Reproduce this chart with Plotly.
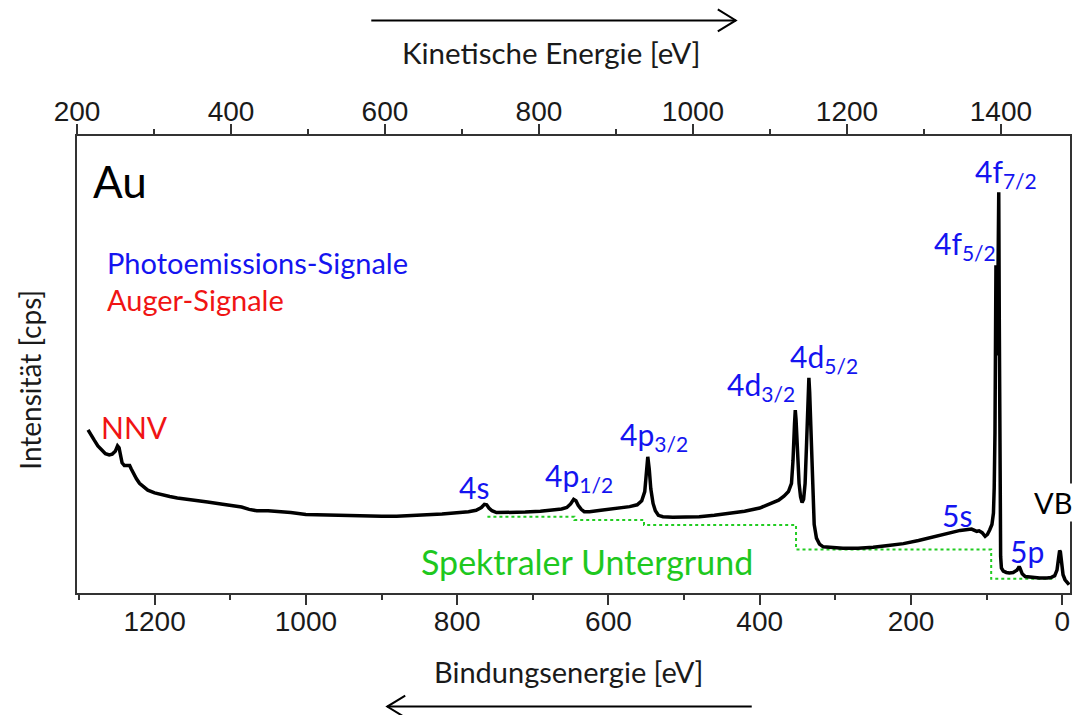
import plotly.graph_objects as go

# Au survey spectrum: binding energy [eV] and intensity (arb. units)
be = [1288, 1285, 1280, 1275, 1270, 1265, 1260, 1256, 1252, 1249, 1247, 1245,
      1243, 1240, 1236, 1233, 1231, 1228, 1224, 1220, 1215, 1209, 1200, 1190,
      1180, 1170, 1150, 1130, 1110, 1095, 1085, 1075, 1065, 1050, 1038, 1020,
      1000, 980, 950, 920, 900, 880, 860, 840, 820, 800, 785, 775, 768, 764,
      761, 758, 754, 748, 730, 710, 690, 675, 662, 655, 650, 646, 643, 640,
      636, 632, 625, 610, 590, 572, 562, 556, 552, 550, 548, 546, 544, 541,
      538, 534, 528, 515, 500, 480, 460, 440, 420, 400, 385, 375, 368, 362,
      358, 356, 354, 353, 352, 350, 348, 346, 344, 342, 340, 338, 336, 335,
      334, 332, 330, 328, 325, 321, 316, 305, 290, 270, 250, 230, 210, 190,
      170, 150, 135, 120, 113, 110, 106, 102, 99, 96, 93, 91, 90, 89, 88.5,
      87.7, 87, 86.5, 86, 85.5, 84.8, 84, 83.3, 82.8, 82.3, 81.5, 80.5, 78,
      74, 70, 65, 60, 58, 57, 56, 53, 49, 40, 30, 20, 15, 10, 7, 5, 3.5, 2.5,
      1, -1, -3.6, -6, -9]
intensity = [357, 348, 335, 322, 312, 305, 302, 304, 310, 322, 318, 300,
             285, 279, 278, 279, 272, 262, 250, 240, 232, 225, 219, 214,
             211, 208, 204, 199, 194, 191, 188, 183, 180, 180, 179, 176,
             172, 171, 170, 169, 168, 168, 169, 171, 173, 175, 178, 181, 187, 194,
             193, 186, 180, 176, 176, 177, 179, 181, 184, 187, 195, 205, 202, 192,
             183, 178, 178, 181, 185, 189, 193, 202, 222, 255, 298, 270, 228, 196,
             180, 170, 167, 166, 166, 167, 170, 174, 179, 186, 195, 203, 212, 222,
             240, 290, 370, 400, 380, 300, 240, 210, 198, 205, 240, 330, 430, 471,
             440, 340, 220, 150, 120, 107, 101, 99, 98, 98, 100, 104, 108, 115,
             123, 131, 137, 140, 135, 136, 132, 124, 128, 138, 150, 175, 230, 350, 560,
             717, 600, 520, 520, 600, 780, 877, 600, 300, 140, 80, 55, 48,
             45, 44, 45, 50, 55, 58, 55, 42, 36, 34, 33, 33, 34, 38, 50, 75, 93, 90,
             60, 40, 29, 23, 18]

# Step-like spectral background (dotted)
bg_be = [760, 645, 645, 553, 553, 352, 352, 94, 94, 9]
bg_int = [167, 167, 160, 160, 149, 149, 95, 95, 31, 31]

# Peak labels: (text, binding energy, intensity, colour)
peak_labels = [
    ("4s", 777.6, 232, "blue"),
    ("4p<sub>1/2</sub>", 639, 254, "blue"),
    ("4p<sub>3/2</sub>", 540, 344, "blue"),
    ("4d<sub>3/2</sub>", 398.7, 453, "blue"),
    ("4d<sub>5/2</sub>", 315.5, 514, "blue"),
    ("4f<sub>5/2</sub>", 128, 761, "blue"),
    ("4f<sub>7/2</sub>", 75, 920, "blue"),
    ("5s", 138.6, 171, "blue"),
    ("5p", 46, 92, "blue"),
    ("NNV", 1227, 363, "red"),
]

be_ticks = [1200, 1000, 800, 600, 400, 200, 0]
be_minor = [1300, 1100, 900, 700, 500, 300, 100]
ke_ticks = [200, 400, 600, 800, 1000, 1200, 1400]
ke_minor = [300, 500, 700, 900, 1100, 1300]

BLUE = "#1414F0"
RED = "#F01414"
GREEN = "#1EC81E"
AX = "#333333"
TXT_FONT = "Lato"

fig = go.Figure()
fig.add_trace(go.Scatter(x=bg_be, y=bg_int, mode="lines",
                         line=dict(color="#22CC22", width=2, dash="dot"),
                         hoverinfo="skip", showlegend=False))
fig.add_trace(go.Scatter(x=be, y=intensity, mode="lines",
                         line=dict(color="black", width=3.5),
                         showlegend=False))
# invisible trace so the kinetic-energy axis is drawn
fig.add_trace(go.Scatter(x=[ke_ticks[0]], y=[0], xaxis="x2", mode="markers",
                         marker=dict(opacity=0), hoverinfo="skip", showlegend=False))

tickfont = dict(family="Liberation Sans, Arial", size=28, color="#1a1a1a")
fig.update_layout(
    width=1075, height=715,
    margin=dict(l=77, r=3, t=136, b=122),
    plot_bgcolor="white", paper_bgcolor="white",
    xaxis=dict(range=[1302.6, -10.2], tickvals=be_ticks, ticks="outside",
               ticklen=10, tickwidth=2, tickcolor=AX, showline=True,
               linecolor=AX, linewidth=2, showgrid=False, zeroline=False,
               tickfont=tickfont, ticklabelstandoff=-8,
               minor=dict(tickvals=be_minor, ticks="outside", ticklen=5,
                          tickwidth=2, tickcolor=AX)),
    xaxis2=dict(range=[200, 1489.7], overlaying="x", side="top", anchor="y",
                tickvals=ke_ticks, ticks="outside", ticklen=10, tickwidth=2,
                tickcolor=AX, showline=True, linecolor=AX, linewidth=2,
                showgrid=False, zeroline=False, tickfont=tickfont,
                ticklabelstandoff=-8,
                minor=dict(tickvals=ke_minor, ticks="outside", ticklen=5,
                           tickwidth=2, tickcolor=AX)),
    yaxis=dict(range=[0, 1000], showticklabels=False, ticks="", showline=True,
               mirror=True, linecolor=AX, linewidth=2, showgrid=False,
               zeroline=False),
)

for text, x, y, col in peak_labels:
    fig.add_annotation(x=x, y=y, xref="x", yref="y", text=text, showarrow=False,
                       font=dict(family=TXT_FONT, size=30,
                                 color=BLUE if col == "blue" else RED),
                       xanchor="center", yanchor="middle")

fig.add_annotation(x=12, y=197, xref="x", yref="y", text="VB", showarrow=False,
                   font=dict(family=TXT_FONT, size=29, color="black"),
                   bgcolor="white", xanchor="center", yanchor="middle")
fig.add_annotation(x=629, y=68, xref="x", yref="y", text="Spektraler Untergrund",
                   showarrow=False,
                   font=dict(family=TXT_FONT, size=34, color=GREEN),
                   xanchor="center", yanchor="middle")


def px(x):
    return (x - 77.3) / 994.4


def py(y):
    return (593.3 - y) / 457.6


fig.add_annotation(x=px(91), y=py(181), xref="paper", yref="paper", text="Au",
                   showarrow=False, font=dict(family=TXT_FONT, size=44, color="black"),
                   xanchor="left", yanchor="middle")
fig.add_annotation(x=px(105), y=py(262), xref="paper", yref="paper",
                   text="Photoemissions-Signale", showarrow=False,
                   font=dict(family=TXT_FONT, size=29, color=BLUE),
                   xanchor="left", yanchor="middle")
fig.add_annotation(x=px(105), y=py(299), xref="paper", yref="paper",
                   text="Auger-Signale", showarrow=False,
                   font=dict(family=TXT_FONT, size=29, color=RED),
                   xanchor="left", yanchor="middle")

# axis titles
fig.add_annotation(x=px(552), y=py(52), xref="paper", yref="paper",
                   text="Kinetische Energie [eV]", showarrow=False,
                   font=dict(family=TXT_FONT, size=29.5, color="#1a1a1a"),
                   xanchor="center", yanchor="middle")
fig.add_annotation(x=px(569), y=py(672), xref="paper", yref="paper",
                   text="Bindungsenergie [eV]", showarrow=False,
                   font=dict(family=TXT_FONT, size=29, color="#1a1a1a"),
                   xanchor="center", yanchor="middle")
fig.add_annotation(x=px(30), y=py(380), xref="paper", yref="paper",
                   text="Intensität [cps]", showarrow=False, textangle=-90,
                   font=dict(family=TXT_FONT, size=28, color="#1a1a1a"),
                   xanchor="center", yanchor="middle")

# direction arrows
arrow = dict(type="path", xref="paper", yref="paper",
             line=dict(color="black", width=2))
fig.add_shape(path=f"M {px(372)} {py(20)} L {px(737)} {py(20)}", **arrow)
fig.add_shape(path=f"M {px(719)} {py(9)} L {px(737)} {py(20)} L {px(719)} {py(31)}", **arrow)
fig.add_shape(path=f"M {px(388)} {py(707)} L {px(753)} {py(707)}", **arrow)
fig.add_shape(path=f"M {px(406)} {py(696)} L {px(388)} {py(707)} L {px(406)} {py(718)}", **arrow)

fig.write_html("out.html")
